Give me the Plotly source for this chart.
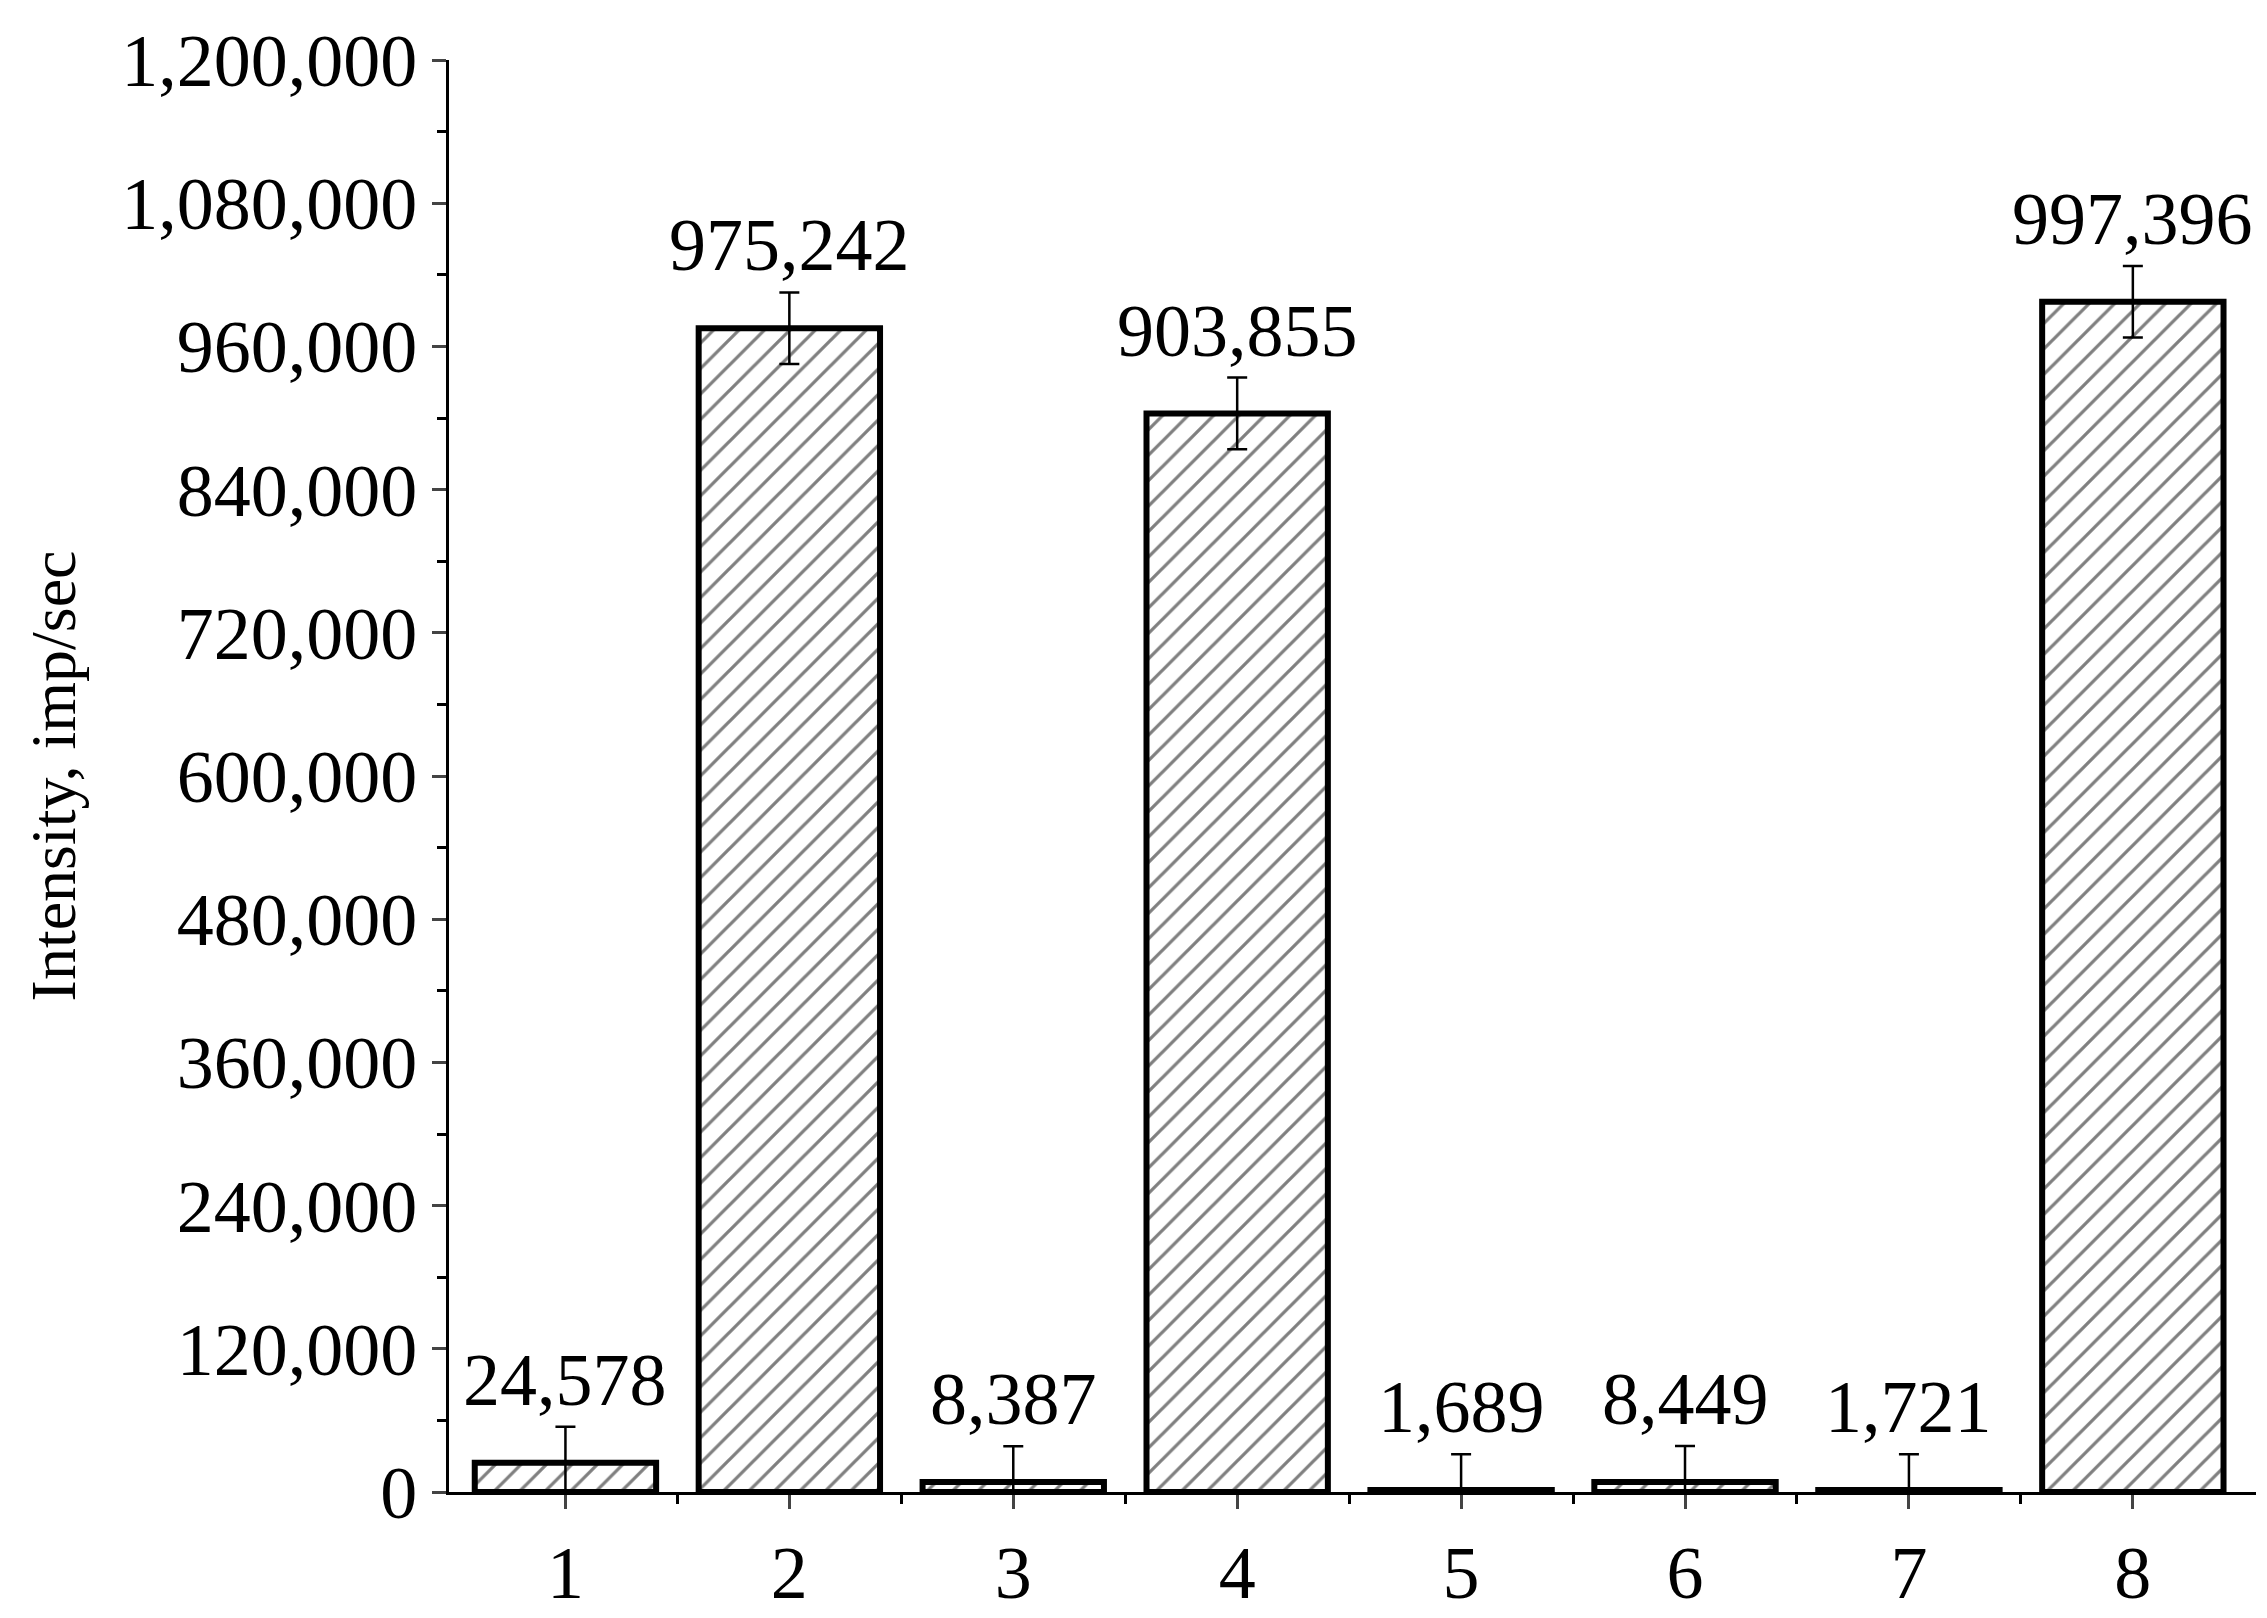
import plotly.graph_objects as go

samples = [1, 2, 3, 4, 5, 6, 7, 8]
intensity = [24578, 975242, 8387, 903855, 1689, 8449, 1721, 997396]
errors = [30000, 30000, 30000, 30000, 30000, 30000, 30000, 30000]
labels = ["24,578", "975,242", "8,387", "903,855", "1,689", "8,449", "1,721", "997,396"]
y_ticks = list(range(0, 1200001, 120000))

font = dict(family="Liberation Serif", size=74, color="black")

fig = go.Figure()
fig.add_trace(go.Bar(
    x=samples, y=intensity, width=0.81,
    marker=dict(color="white", line=dict(color="black", width=6),
                pattern=dict(shape="/", fgcolor="black", bgcolor="white", size=18, solidity=0.18)),
    error_y=dict(type="data", array=errors, color="black", thickness=2.5, width=10),
    showlegend=False,
))

for x, y, e, t in zip(samples, intensity, errors, labels):
    fig.add_annotation(x=x, y=y + e, text=t, showarrow=False, yanchor="bottom",
                       yshift=4, font=font)

fig.update_layout(
    width=2267, height=1618, plot_bgcolor="white", paper_bgcolor="white",
    margin=dict(l=441, r=19, t=51, b=126),
    font=font,
)
fig.update_xaxes(range=[0.48, 8.55], tickvals=samples, ticks="outside", ticklen=14, tickwidth=3,
                 showline=True, linecolor="black", linewidth=3, showgrid=False, zeroline=False,
                 minor=dict(tickvals=[x + 0.5 for x in samples[:-1]], ticks="outside", ticklen=9,
                            tickwidth=3, tickcolor="black"))
fig.update_yaxes(range=[0, 1200000], tickvals=y_ticks, tickformat=",d", ticks="outside",
                 ticklen=14, tickwidth=3, showline=True, linecolor="black", linewidth=3,
                 showgrid=False, zeroline=False,
                 minor=dict(dtick=60000, ticks="outside", ticklen=9, tickwidth=3, tickcolor="black"),
                 title=dict(text="Intensity, imp/sec", font=dict(family="Liberation Serif", size=64),
                            standoff=25))

fig.write_html("out.html")
